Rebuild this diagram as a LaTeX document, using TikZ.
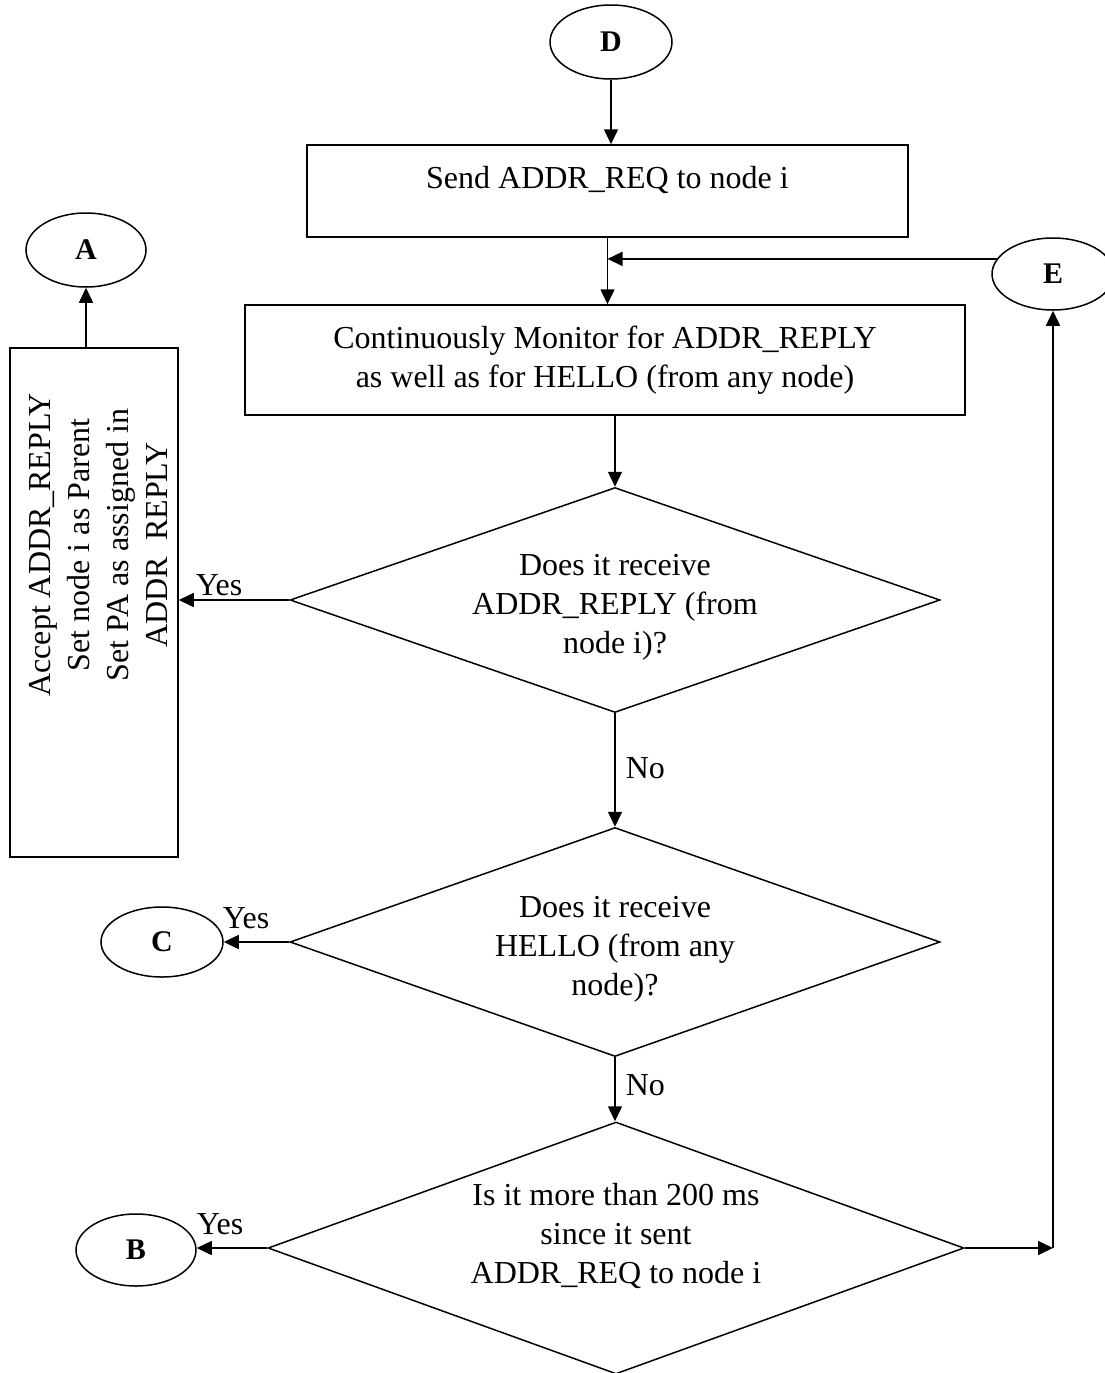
\documentclass[tikz,border=0pt]{standalone}
\usepackage{fontspec}
\setmainfont{Liberation Serif}
\usetikzlibrary{arrows.meta,shapes.geometric}
\begin{document}
\begin{tikzpicture}[x=1pt,y=-1pt,line width=1.5pt,
  every node/.style={font=\fontsize{32}{39}\selectfont},
  term/.style={draw,ellipse,inner sep=0pt,font=\fontsize{30}{36}\selectfont\bfseries},
  proc/.style={draw,rectangle,inner sep=0pt},
  dec/.style={draw,diamond,inner sep=0pt},
  txt/.style={align=center,inner sep=0pt},
  flow/.style={-{Triangle[length=15pt,width=14pt]}},
  lbl/.style={inner sep=0pt,anchor=west}]
\useasboundingbox (0,0) rectangle (1104,1373);

% terminals
\node[term,minimum width=122,minimum height=74] (D) at (611,42) {D};
\node[term,minimum width=122,minimum height=72] (E) at (1053,274) {E};
\node[term,minimum width=120,minimum height=74] (A) at (86,250) {A};
\node[term,minimum width=122,minimum height=70] (C) at (162,942) {C};
\node[term,minimum width=120,minimum height=72] (B) at (136,1250) {B};

% process boxes
\node[proc,minimum width=601,minimum height=92] (send) at (607.5,191) {};
\node[txt] (sendtext) at (607.5,180) {Send ADDR\_REQ to node i};
\node[proc,minimum width=720,minimum height=110,align=center] (mon) at (605,360)
  {Continuously Monitor for ADDR\_REPLY\\as well as for HELLO (from any node)};
\node[proc,minimum width=168,minimum height=509] (acc) at (94,602.5) {};
\node[txt,rotate=90] (acctext) at (98,545)
  {Accept ADDR\_REPLY\\Set node i as Parent\\Set PA as assigned in\\ADDR\enspace REPLY};

% decisions
\node[dec,minimum width=650,minimum height=225] (q1) at (615,600) {};
\node[txt] (q1text) at (615,607) {Does it receive\\ADDR\_REPLY (from\\node i)?};
\node[dec,minimum width=650,minimum height=229] (q2) at (615,942) {};
\node[txt] (q2text) at (615,949) {Does it receive\\HELLO (from any\\node)?};
\node[dec,minimum width=696,minimum height=252] (q3) at (616,1248) {};
\node[txt] (q3text) at (616,1236) {Is it more than 200 ms\\since it sent\\ADDR\_REQ to node i};

% connectors
\coordinate (join) at (send.south |- E.165);
\coordinate (corner) at (q3.east -| E.south);
\draw[flow] (D.south) -- (D.south |- send.north);
\draw (send.south) -- (join);
\draw[flow] (E.165) -- (join);
\draw[flow] (join) -- (join |- mon.north);
\draw[flow] (q1.north |- mon.south) -- (q1.north);
\draw[flow] (q1.west) -- (q1.west -| acc.east);
\draw[flow] (A.south |- acc.north) -- (A.south);
\draw[flow] (q1.south) -- (q2.north);
\draw[flow] (q2.west) -- (q2.west -| C.east);
\draw[flow] (q2.south) -- (q2.south |- q3.north);
\draw[flow] (q3.west) -- (q3.west -| B.east);
\draw[flow] (q3.east) -- (corner);
\draw[flow] (corner) -- (E.south);

% branch labels
\node[lbl] (y1) at (195,585) {Yes};
\node[lbl] (y2) at (222,918) {Yes};
\node[lbl] (y3) at (196,1224) {Yes};
\node[lbl] (n1) at (625,768) {No};
\node[lbl] (n2) at (625,1085) {No};
\end{tikzpicture}
\end{document}
